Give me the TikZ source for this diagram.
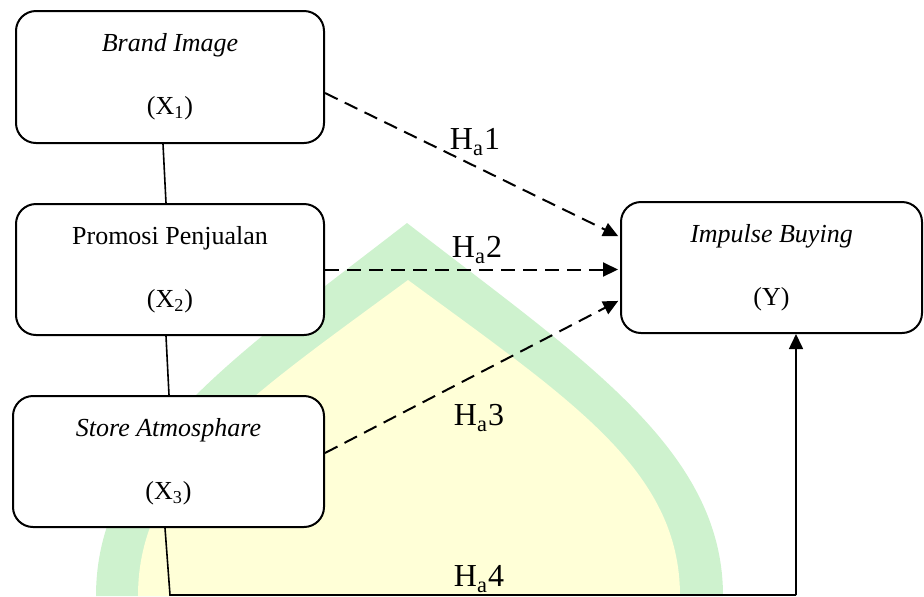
\documentclass[tikz,border=0pt]{standalone}
\usepackage{fontspec}
\setmainfont{Liberation Serif}
\usetikzlibrary{arrows.meta}
\definecolor{wmgreen}{RGB}{206,242,206}
\definecolor{wmyellow}{RGB}{255,255,215}

\begin{document}
\begin{tikzpicture}[x=0.5pt, y=-0.5pt, >={Triangle[length=7.5pt,width=7pt]},
	varbox/.style={draw, fill=white, line width=1pt, rounded corners=10pt, align=center, inner sep=0pt, font=\fontsize{13}{31.5}\selectfont},
	hyplabel/.style={font=\fontsize{16}{19}\selectfont},
	hyparrow/.style={->, line width=1pt, dash pattern=on 7pt off 4pt, shorten >=1pt},
	link/.style={line width=0.8pt}]
	\useasboundingbox (0,0) rectangle (924,596);
	\fill[wmgreen] (96,596) .. controls (96,450) and (230,360) .. (407,223) .. controls (584,360) and (723,450) .. (723,596) -- cycle;
	\fill[wmyellow] (138,596) .. controls (138,470) and (245,400) .. (408,280) .. controls (571,400) and (680,470) .. (680,596) -- cycle;
	\node[varbox, minimum width=154pt, minimum height=66pt] (bi) at (170,77) {\textit{Brand Image}\\(X\textsubscript{1})};
	\node[varbox, minimum width=154pt, minimum height=65.5pt] (pp) at (170,269.5) {Promosi Penjualan\\(X\textsubscript{2})};
	\node[varbox, minimum width=155.5pt, minimum height=65.5pt] (sa) at (168.5,461.5) {\textit{Store Atmosphare}\\(X\textsubscript{3})};
	\node[varbox, minimum width=150.5pt, minimum height=65.5pt] (iy) at (771.5,267.5) {\textit{Impulse Buying}\\(Y)};
	\draw[link] ([xshift=-3.5pt]bi.south) -- ([xshift=-2pt]pp.north);
	\draw[link] ([xshift=-2pt]pp.south) -- ([xshift=0.25pt]sa.north);
	\coordinate (bend) at (170,595); \coordinate (rise) at (796,595);
	\draw[link] ([xshift=-1.75pt]sa.south) -- (bend) -- (rise);
	\draw[link, ->] (rise) -- (rise |- iy.south);
	\draw[hyparrow] ([yshift=-8pt]bi.east) -- ([yshift=15.25pt]iy.west);
	\draw[hyparrow] (pp.east) -- (pp.east -| iy.west);
	\draw[hyparrow] ([yshift=4.25pt]sa.east) -- ([yshift=-16.25pt]iy.west);
	\node[hyplabel] (h1) at (475,142) {H\textsubscript{a}1};
	\node[hyplabel] (h2) at (477,250) {H\textsubscript{a}2};
	\node[hyplabel] (h3) at (479,418) {H\textsubscript{a}3};
	\node[hyplabel] (h4) at (479,579) {H\textsubscript{a}4};
\end{tikzpicture}
\end{document}
